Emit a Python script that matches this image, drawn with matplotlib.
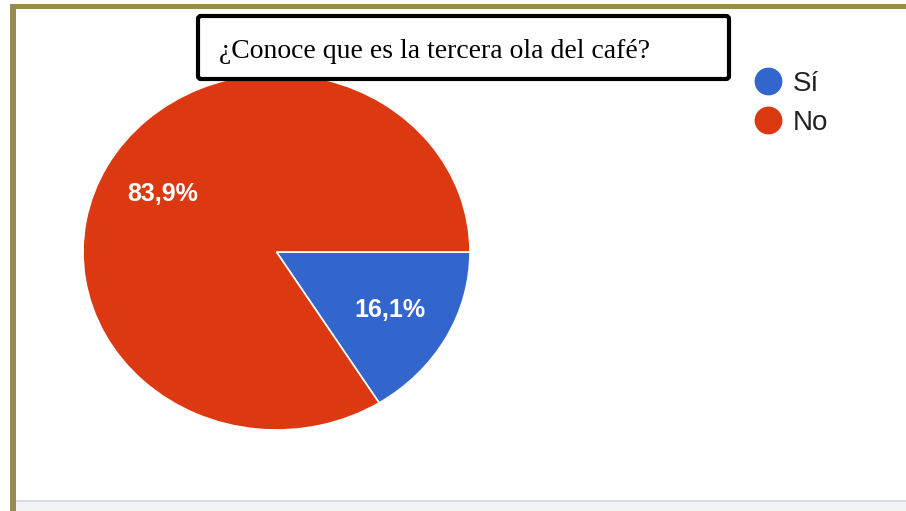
import matplotlib.pyplot as plt
from matplotlib.patches import Rectangle, FancyBboxPatch
from matplotlib.lines import Line2D

# data
labels = ['Sí', 'No']
values = [16.1, 83.9]
colors = ['#3366cc', '#dc3912']
title = '¿Conoce que es la tercera ola del café?'

W, H = 906, 511
fig = plt.figure(figsize=(W / 100, H / 100), dpi=100)

# background frame, pixel coords
bg = fig.add_axes([0, 0, 1, 1])
bg.set_xlim(0, W)
bg.set_ylim(H, 0)
bg.axis('off')
olive = '#978b52'
bg.add_patch(Rectangle((16, 500), W - 16, 2, color='#dadce0', lw=0))
bg.add_patch(Rectangle((16, 502), W - 16, 9, color='#f1f3f4', lw=0))
bg.add_patch(Rectangle((10, 4), W - 10, 5.5, color=olive, lw=0))
bg.add_patch(Rectangle((10, 4), 5.5, H - 4, color=olive, lw=0))

# pie (source is slightly stretched horizontally)
ax = fig.add_axes([83 / W, 1 - 430 / H, 387 / W, 356 / H])
wedges, _, autotexts = ax.pie(values, colors=colors, startangle=0, counterclock=False,
                              autopct=lambda p: f'{p:.1f}%'.replace('.', ','),
                              pctdistance=0.67,
                              wedgeprops=dict(edgecolor='white', linewidth=1.2),
                              textprops=dict(color='white', fontsize=18, weight='bold',
                                             family='Liberation Sans'))
ax.set_aspect('auto')
ax.set_xlim(-1, 1)
ax.set_ylim(-1, 1)

# legend
handles = [Line2D([], [], ls='none', marker='o', markersize=19, color=c) for c in colors]
fig.legend(handles, labels, loc='upper left', bbox_to_anchor=(755 / W, 1 - 71 / H),
           frameon=False, handlelength=0.9, handletextpad=0.45, labelspacing=0.47,
           borderpad=0, borderaxespad=0,
           prop=dict(family='Liberation Sans', size=20), labelcolor='#222222')

# title box on top
top = fig.add_axes([0, 0, 1, 1])
top.set_xlim(0, W)
top.set_ylim(H, 0)
top.axis('off')
top.patch.set_alpha(0)
top.add_patch(FancyBboxPatch((198, 16), 531, 63, boxstyle='round,pad=0,rounding_size=3',
                             lw=3, edgecolor='black', facecolor='white'))
top.text(219, 58, title, fontsize=20, family='Liberation Serif', color='black',
         va='baseline', ha='left')

fig.savefig('out.png', dpi=100)
